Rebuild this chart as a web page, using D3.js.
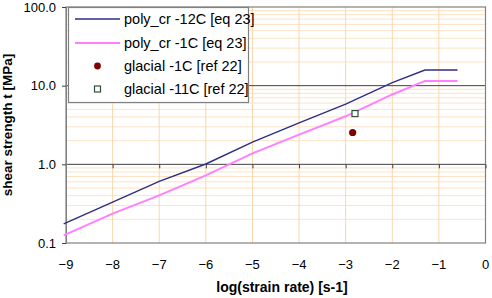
<!DOCTYPE html>
<html><head><meta charset="utf-8">
<script src="https://cdn.jsdelivr.net/npm/d3@7"></script>
<style>body{margin:0;background:#fff}svg{display:block;font-family:"Liberation Sans",Arial,sans-serif}</style>
</head><body><svg id="c" width="492" height="298"></svg>
<script>
const logRate = [-9.05, -8, -7, -6, -5, -4, -3, -2, -1.3, -0.6];
const polyCr12 = [0.175, 0.331, 0.607, 1.01, 1.91, 3.36, 5.81, 10.9, 15.8, 15.8];
const polyCr1 = [0.125, 0.236, 0.403, 0.724, 1.38, 2.39, 4.08, 7.73, 11.5, 11.5];
const glacial1 = [{x: -2.85, y: 2.54}];
const glacial11 = [{x: -2.80, y: 4.42}];
const xTicks = [-9, -8, -7, -6, -5, -4, -3, -2, -1, 0];
const yTicks = [0.1, 1, 10, 100];
const legendLabels = ["poly_cr -12C [eq 23]", "poly_cr -1C [eq 23]", "glacial -1C [ref 22]", "glacial -11C [ref 22]"];

const svg = d3.select("#c");
const L = 66, R = 485.5, T = 7, B = 243;
const x = d3.scaleLinear().domain([-9, 0]).range([L, R]);
const y = d3.scaleLog().domain([0.1, 100]).range([B, T]);

// minor horizontal grid
const minor = [];
[0.1, 1, 10].forEach(d => { for (let k = 2; k <= 9; k++) minor.push(d * k); });
svg.append("g").selectAll("line").data(minor).join("line")
  .attr("x1", L).attr("x2", R).attr("y1", d => y(d)).attr("y2", d => y(d))
  .attr("stroke", "#fde3c6").attr("stroke-width", 1);
// vertical grid
svg.append("g").selectAll("line").data(xTicks.slice(1, -1)).join("line")
  .attr("x1", d => x(d)).attr("x2", d => x(d)).attr("y1", T).attr("y2", B)
  .attr("stroke", "#fcd6ab").attr("stroke-width", 1);
// major horizontal lines
svg.append("g").selectAll("line").data([1, 10]).join("line")
  .attr("x1", L).attr("x2", R).attr("y1", d => y(d)).attr("y2", d => y(d))
  .attr("stroke", "#404040").attr("stroke-width", 1);
// frame
svg.append("rect").attr("x", L).attr("y", T).attr("width", R - L).attr("height", B - T)
  .attr("fill", "none").attr("stroke", "#808080").attr("stroke-width", 1.2);

// x axis at y=1 (ticks only) + labels at bottom
const xAx = svg.append("g").attr("transform", `translate(0,${y(1)})`)
  .call(d3.axisBottom(x).tickValues(xTicks).tickSize(4).tickFormat(""));
xAx.select(".domain").remove();
xAx.selectAll("line").attr("stroke", "#404040");
svg.append("g").selectAll("text").data(xTicks).join("text")
  .attr("x", d => x(d)).attr("y", 268.5).attr("text-anchor", "middle")
  .attr("font-size", 13).attr("fill", "#000").text(d => d3.format("d")(d));

// y axis
const yAx = svg.append("g").attr("transform", `translate(${L},0)`)
  .call(d3.axisLeft(y).tickValues(yTicks).tickSize(4).tickFormat(d3.format(".1f")));
yAx.select(".domain").attr("stroke", "#808080");
yAx.selectAll("line").attr("stroke", "#404040");
yAx.selectAll("text").attr("font-size", 13).attr("fill", "#000")
  .attr("font-family", "Liberation Sans, Arial, sans-serif").attr("x", -10);

// titles
svg.append("text").attr("x", 282).attr("y", 292).attr("text-anchor", "middle")
  .attr("font-size", 14).attr("font-weight", "bold").text("log(strain rate) [s-1]");
svg.append("text").attr("transform", `translate(12,${(T + B) / 2}) rotate(-90)`)
  .attr("text-anchor", "middle").attr("font-size", 13.5).attr("font-weight", "bold")
  .text("shear strength t [MPa]");

// lines
const line = d3.line().x(d => x(d[0])).y(d => y(d[1]));
svg.append("path").datum(logRate.map((r, i) => [r, polyCr1[i]])).attr("d", line)
  .attr("fill", "none").attr("stroke", "#ff80ff").attr("stroke-width", 2);
svg.append("path").datum(logRate.map((r, i) => [r, polyCr12[i]])).attr("d", line)
  .attr("fill", "none").attr("stroke", "#2e2e86").attr("stroke-width", 1.4);

// points
svg.append("g").selectAll("circle").data(glacial1).join("circle")
  .attr("cx", d => x(d.x)).attr("cy", d => y(d.y)).attr("r", 3.6).attr("fill", "#800000");
svg.append("g").selectAll("rect").data(glacial11).join("rect")
  .attr("x", d => x(d.x) - 3).attr("y", d => y(d.y) - 3).attr("width", 6).attr("height", 6)
  .attr("fill", "#fff").attr("stroke", "#2f4f3a").attr("stroke-width", 1.2);

// legend
const lg = svg.append("g");
lg.append("rect").attr("x", 68.5).attr("y", 7.5).attr("width", 180).attr("height", 95)
  .attr("fill", "#fff").attr("stroke", "#808080").attr("stroke-width", 1.2);
const ly = [19, 43, 66, 89];
lg.append("line").attr("x1", 75).attr("x2", 120).attr("y1", ly[0]).attr("y2", ly[0])
  .attr("stroke", "#2e2e86").attr("stroke-width", 1.4);
lg.append("line").attr("x1", 75).attr("x2", 120).attr("y1", ly[1]).attr("y2", ly[1])
  .attr("stroke", "#ff80ff").attr("stroke-width", 2);
lg.append("circle").attr("cx", 97.5).attr("cy", ly[2]).attr("r", 3.4).attr("fill", "#800000");
lg.append("rect").attr("x", 94.5).attr("y", ly[3] - 3).attr("width", 6).attr("height", 6)
  .attr("fill", "#fff").attr("stroke", "#2f4f3a").attr("stroke-width", 1.2);
lg.selectAll("text.l").data(legendLabels).join("text").attr("class", "l")
  .attr("x", 124).attr("y", (d, i) => ly[i] + 5).attr("font-size", 14.5).text(d => d);
</script></body></html>
